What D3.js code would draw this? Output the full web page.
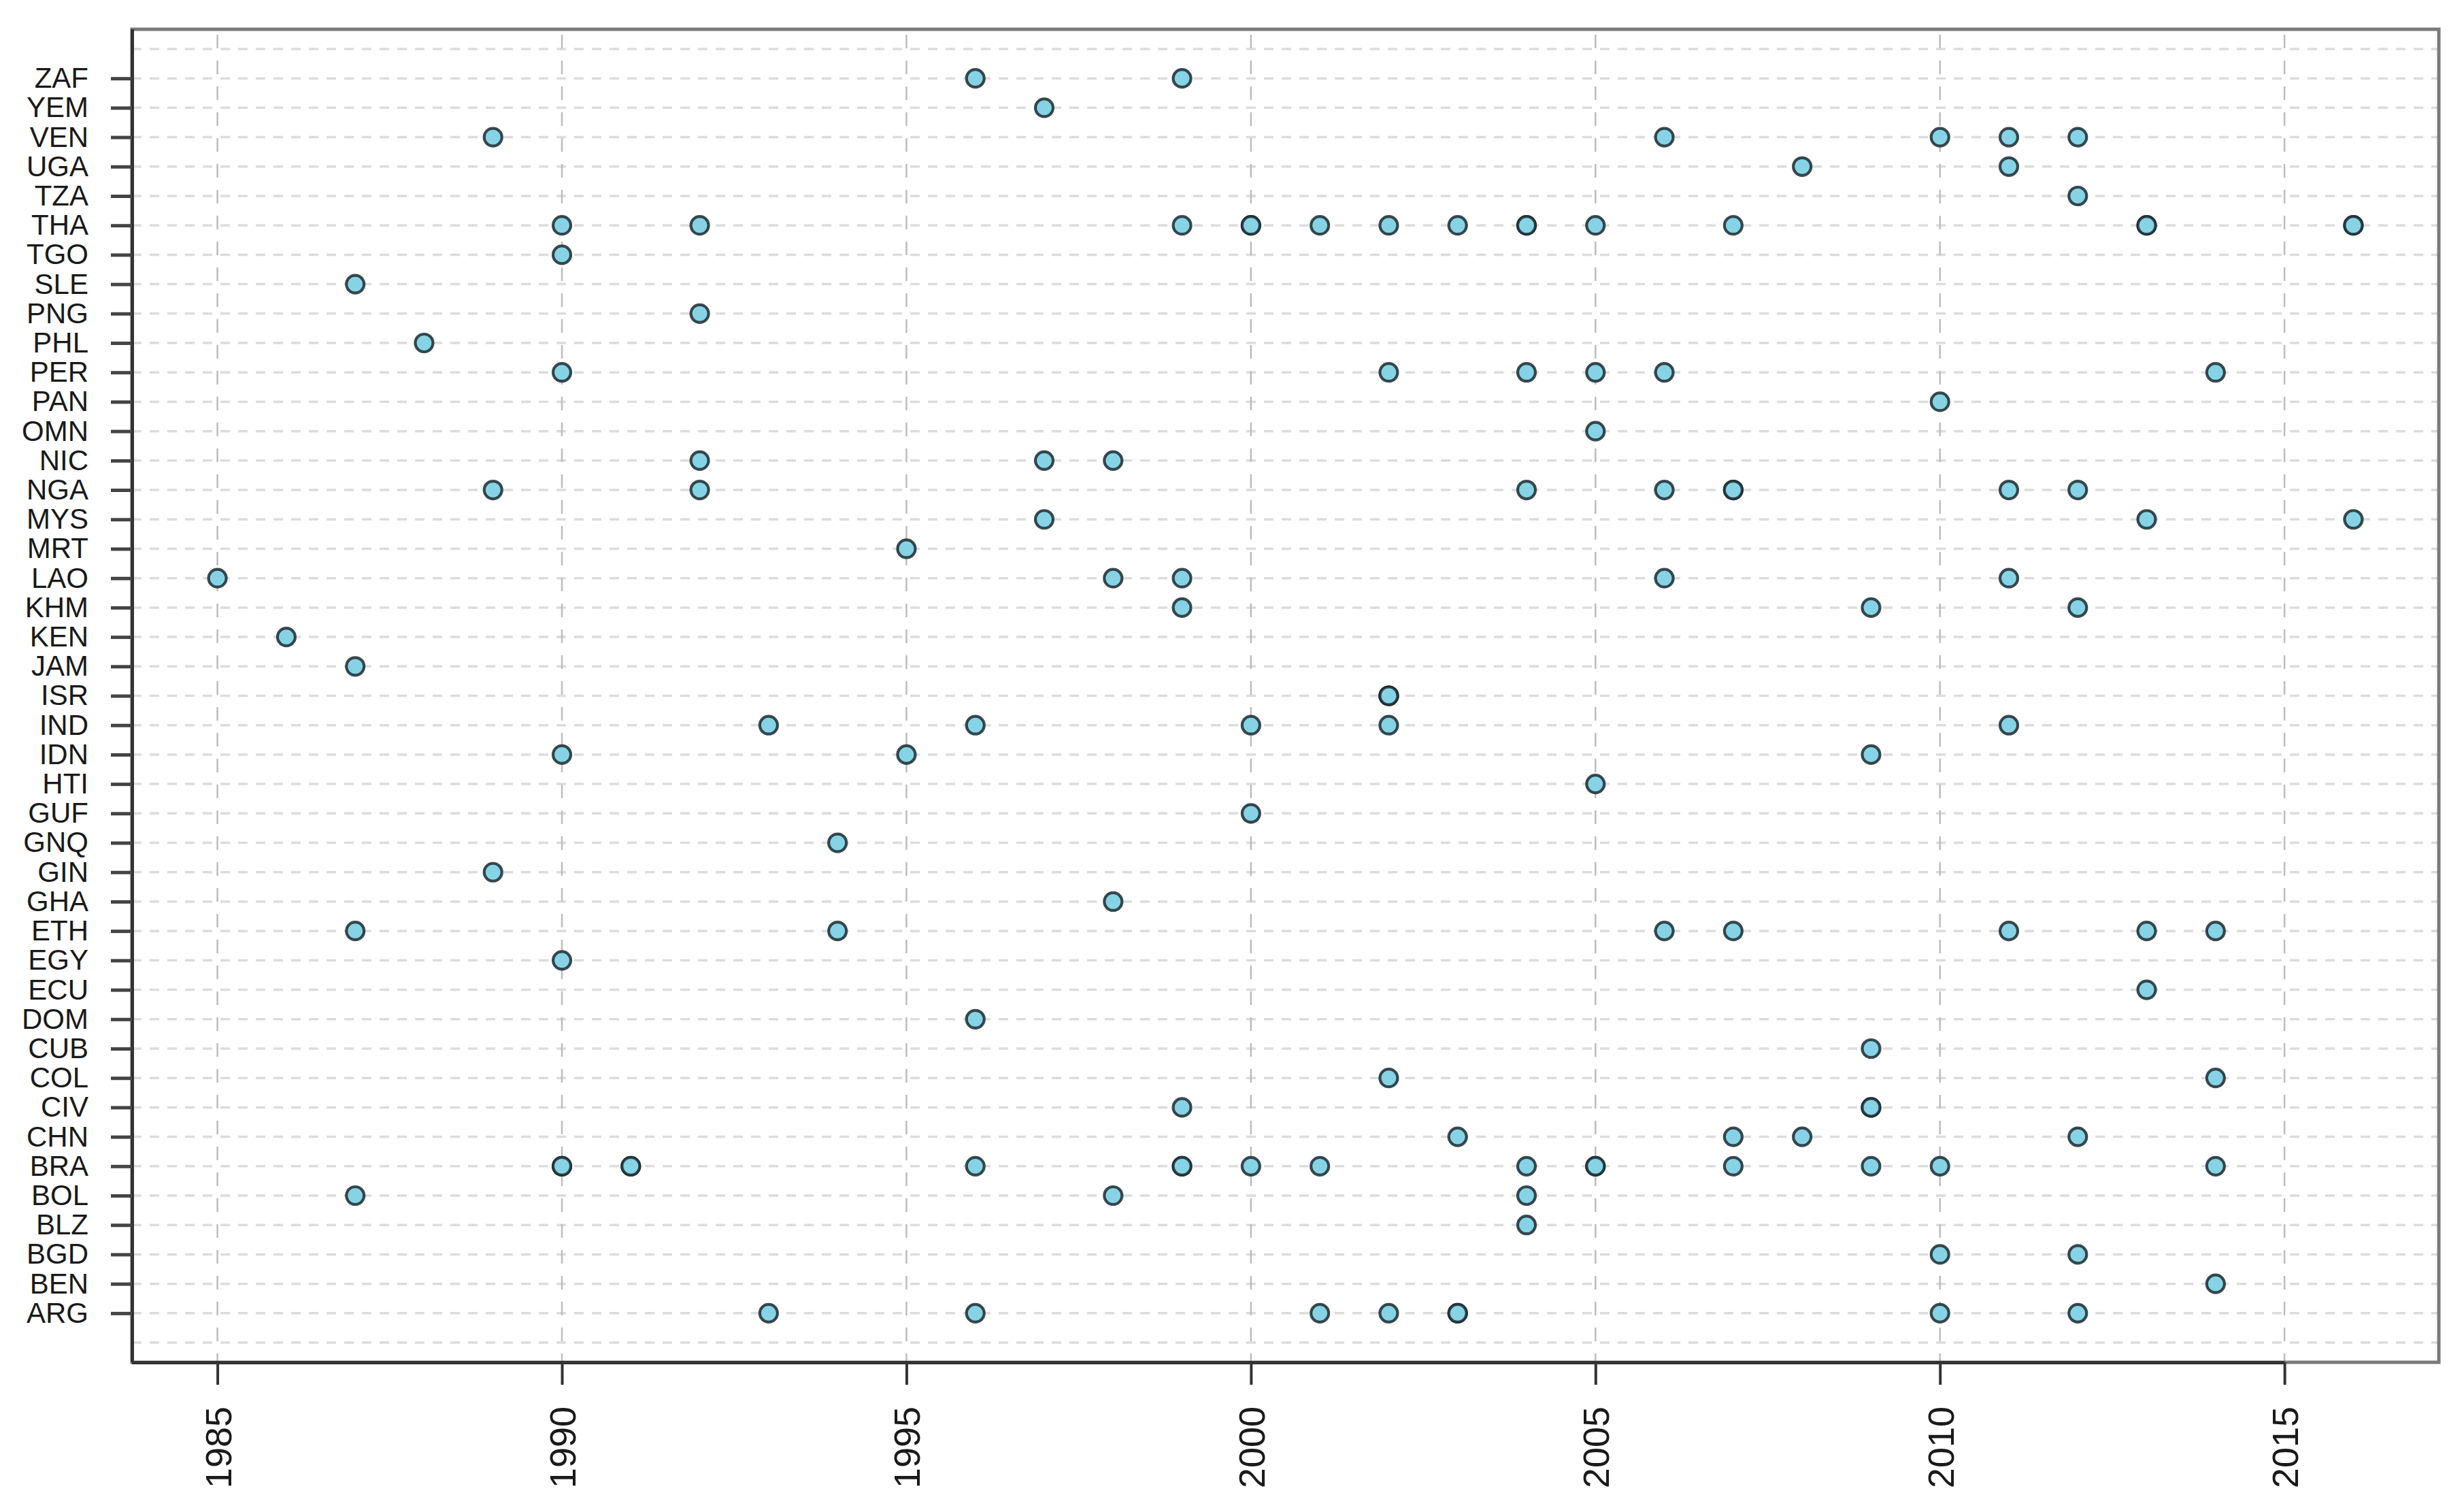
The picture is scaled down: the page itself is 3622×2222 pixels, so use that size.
<!DOCTYPE html>
<html>
<head>
<meta charset="utf-8">
<script src="https://cdn.jsdelivr.net/npm/d3@7"></script>
<style>
  html, body { margin: 0; padding: 0; background: #ffffff; }
  svg { display: block; }
</style>
</head>
<body>
<script>
// ---- data (top level) ----
const countries = ["ARG","BEN","BGD","BLZ","BOL","BRA","CHN","CIV","COL","CUB","DOM","ECU","EGY","ETH","GHA","GIN","GNQ","GUF","HTI","IDN","IND","ISR","JAM","KEN","KHM","LAO","MRT","MYS","NGA","NIC","OMN","PAN","PER","PHL","PNG","SLE","TGO","THA","TZA","UGA","VEN","YEM","ZAF"];
const eventYears = [
  [1993,1996,2001,2002,2003,2003,2010,2012],            // ARG
  [2014],                                               // BEN
  [2010,2012],                                          // BGD
  [2004],                                               // BLZ
  [1987,1998,2004],                                     // BOL
  [1990,1990,1991,1991,1996,1999,1999,2000,2001,2004,2005,2005,2007,2009,2010,2014], // BRA
  [2003,2007,2008,2012],                                // CHN
  [1999,2009,2009],                                     // CIV
  [2002,2014],                                          // COL
  [2009],                                               // CUB
  [1996],                                               // DOM
  [2013],                                               // ECU
  [1990],                                               // EGY
  [1987,1994,2006,2007,2011,2013,2014],                 // ETH
  [1998],                                               // GHA
  [1989],                                               // GIN
  [1994],                                               // GNQ
  [2000],                                               // GUF
  [2005],                                               // HTI
  [1990,1995,2009],                                     // IDN
  [1993,1996,2000,2002,2011],                           // IND
  [2002,2002,2002],                                     // ISR
  [1987],                                               // JAM
  [1986],                                               // KEN
  [1999,2009,2012],                                     // KHM
  [1985,1998,1999,2006,2011],                           // LAO
  [1995],                                               // MRT
  [1997,2013,2016],                                     // MYS
  [1989,1992,2004,2006,2007,2007,2011,2012],            // NGA
  [1992,1997,1998],                                     // NIC
  [2005],                                               // OMN
  [2010],                                               // PAN
  [1990,2002,2004,2005,2006,2014],                      // PER
  [1988],                                               // PHL
  [1992],                                               // PNG
  [1987],                                               // SLE
  [1990],                                               // TGO
  [1990,1992,1999,2000,2000,2001,2002,2003,2004,2004,2005,2007,2013,2013,2016,2016], // THA
  [2012],                                               // TZA
  [2008,2011],                                          // UGA
  [1989,2006,2010,2011,2012],                           // VEN
  [1997],                                               // YEM
  [1996,1999]                                           // ZAF
];
const yearTicks = [1985,1990,1995,2000,2005,2010,2015];

// ---- layout ----
const W = 3622, H = 2222;
const plotLeft = 194, plotRight = 3585, plotTop = 43, plotBottom = 2002;

const svg = d3.select("body").append("svg")
  .attr("width", W).attr("height", H)
  .attr("viewBox", `0 0 ${W} ${H}`);

svg.append("rect").attr("width", W).attr("height", H).attr("fill", "#ffffff");

const xMin = d3.min(eventYears.flat()), xMax = d3.max(eventYears.flat());
const xPad = (xMax - xMin) * 0.04;
const x = d3.scaleLinear().domain([xMin - xPad, xMax + xPad]).range([plotLeft, plotRight]);

// category index: ARG = 1 ... ZAF = 43
const n = countries.length;
const y = d3.scaleLinear().domain([-0.67, n + 1.67]).range([plotBottom, plotTop]);

// ---- grid ----
const grid = svg.append("g");
grid.selectAll("line.h").data(d3.range(0, n + 2)).join("line")
  .attr("x1", plotLeft).attr("x2", plotRight)
  .attr("y1", d => y(d)).attr("y2", d => y(d))
  .attr("stroke", "#dcdcdc").attr("stroke-width", 3.5)
  .attr("stroke-dasharray", "14,12");
grid.selectAll("line.v").data(yearTicks).join("line")
  .attr("x1", d => x(d)).attr("x2", d => x(d))
  .attr("y1", plotTop + 8).attr("y2", plotBottom)
  .attr("stroke", "#bcbcbc").attr("stroke-width", 2.5)
  .attr("stroke-dasharray", "20,18");

// ---- box ----
svg.append("rect")
  .attr("x", plotLeft).attr("y", plotTop)
  .attr("width", plotRight - plotLeft).attr("height", plotBottom - plotTop)
  .attr("fill", "none").attr("stroke", "#7a7a7a").attr("stroke-width", 5);

// ---- points ----
const pts = [];
countries.forEach((c, i) => eventYears[i].forEach(yr => pts.push({c, i: i + 1, yr})));
svg.append("g").selectAll("circle").data(pts).join("circle")
  .attr("cx", d => x(d.yr)).attr("cy", d => y(d.i))
  .attr("r", 13)
  .attr("fill", "#86d3e6")
  .attr("stroke", "#1b2a2f").attr("stroke-width", 4.2).attr("stroke-opacity", 0.85);

// ---- axes ----
const xAxis = d3.axisBottom(x).tickValues(yearTicks).tickFormat(d3.format("d"))
  .tickSize(33).tickPadding(0);
const gx = svg.append("g").attr("transform", `translate(0,${plotBottom})`).call(xAxis);
gx.select(".domain").attr("d", `M${plotLeft},0.5H${x(2015)}`)
  .attr("stroke", "#333").attr("stroke-width", 5);
gx.selectAll(".tick line").attr("stroke", "#333").attr("stroke-width", 4);
gx.selectAll(".tick text")
  .attr("transform", "rotate(-90)")
  .attr("x", -65).attr("y", 0).attr("dy", "0.36em")
  .attr("text-anchor", "end")
  .attr("font-family", "'Liberation Sans', Arial, sans-serif")
  .attr("font-size", 54).attr("fill", "#1a1a1a");

const yAxis = d3.axisLeft(y).tickValues(d3.range(1, n + 1))
  .tickFormat(d => countries[d - 1]).tickSize(31).tickPadding(33);
const gy = svg.append("g").attr("transform", `translate(${plotLeft},0)`).call(yAxis);
gy.select(".domain").attr("d", `M0.5,${plotBottom}V${plotTop}`)
  .attr("stroke", "#333").attr("stroke-width", 5);
gy.selectAll(".tick line").attr("stroke", "#444").attr("stroke-width", 5);
gy.selectAll(".tick text")
  .attr("font-family", "'Liberation Sans', Arial, sans-serif")
  .attr("font-size", 42).attr("fill", "#1a1a1a");
</script>
</body>
</html>
